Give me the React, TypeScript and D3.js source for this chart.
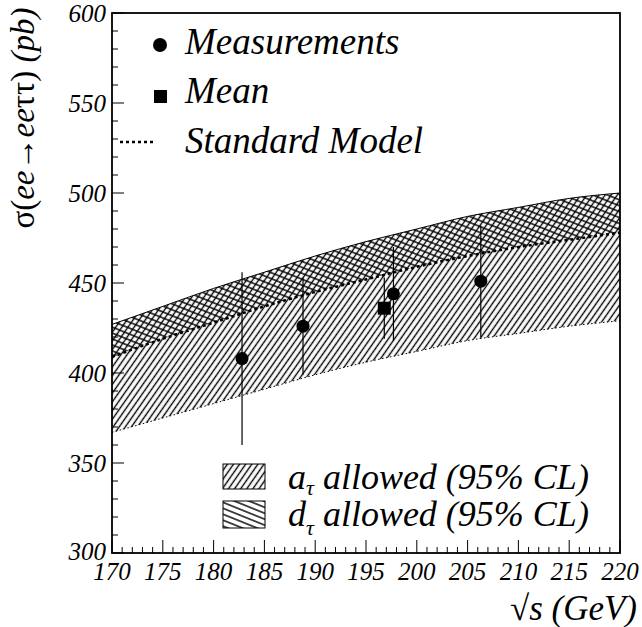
import * as d3 from "d3";

// sqrt(s) grid for the bands (GeV)
const ENERGY = [170, 175, 180, 185, 190, 195, 200, 205, 210, 215, 220];
// Standard Model prediction (pb)
const SM_XSEC = [409, 419, 428, 437, 445, 452, 459, 465, 470, 474, 478];
// upper edge of both allowed regions (pb)
const BAND_HIGH = [427, 437, 447, 456, 465, 473, 480, 487, 492, 497, 500];
// lower edge of the a_tau allowed region (pb)
const BAND_LOW = [367, 375, 383, 391, 399, 406, 412, 418, 422, 426, 429];

// measurements
const MEAS_E = [182.8, 188.8, 197.7, 206.3];
const MEAS_XSEC = [408, 426, 444, 451];
const MEAS_ERR = [48, 27, 26, 31];

// mean
const MEAN_E = [196.8];
const MEAN_XSEC = [436];
const MEAN_ERR = [17];

const X_TICKS = [170, 175, 180, 185, 190, 195, 200, 205, 210, 215, 220];
const Y_TICKS = [300, 350, 400, 450, 500, 550, 600];

const W = 642;
const H = 627;
const FONT =
  "'Liberation Serif', 'Times New Roman', Times, 'Nimbus Roman', 'Noto Serif', 'DejaVu Serif', FreeSerif, serif";

export default function App() {
  const x = d3.scaleLinear().domain([170, 220]).range([112, 620]);
  const y = d3.scaleLinear().domain([300, 600]).range([553, 13]);

  const pts = ENERGY.map((e, i) => ({ e, sm: SM_XSEC[i], hi: BAND_HIGH[i], lo: BAND_LOW[i] }));
  type P = (typeof pts)[number];

  const areaA = d3
    .area<P>()
    .x((d) => x(d.e))
    .y0((d) => y(d.lo))
    .y1((d) => y(d.hi))
    .curve(d3.curveMonotoneX);
  const areaD = d3
    .area<P>()
    .x((d) => x(d.e))
    .y0((d) => y(d.sm))
    .y1((d) => y(d.hi))
    .curve(d3.curveMonotoneX);
  const lineOf = (f: (d: P) => number) =>
    d3
      .line<P>()
      .x((d) => x(d.e))
      .y((d) => y(f(d)))
      .curve(d3.curveMonotoneX)(pts) ?? "";

  const xMinor = d3.range(170, 221, 1);
  const yMinor = d3.range(300, 601, 10);

  return (
    <div style={{ fontFamily: FONT }}>
      <style>{`body{margin:0} svg text{font-family:${FONT}}`}</style>
      <svg width={W} height={H} style={{ display: "block", background: "#fff" }}>
        <defs>
          <pattern id="hatchA" width="5" height="5" patternUnits="userSpaceOnUse" patternTransform="rotate(35)">
            <line x1="2.5" y1="0" x2="2.5" y2="5" stroke="#000" strokeWidth="1.4" />
          </pattern>
          <pattern id="hatchD" width="5" height="5.5" patternUnits="userSpaceOnUse" patternTransform="rotate(22)">
            <line x1="0" y1="2.75" x2="5" y2="2.75" stroke="#000" strokeWidth="1.4" />
          </pattern>
        </defs>

        {/* bands */}
        <path d={areaA(pts) ?? ""} fill="url(#hatchA)" />
        <path d={areaD(pts) ?? ""} fill="url(#hatchD)" />
        <path d={lineOf((d) => d.hi)} fill="none" stroke="#000" strokeWidth={1} />
        <path d={lineOf((d) => d.lo)} fill="none" stroke="#000" strokeWidth={1} strokeDasharray="1.5,2.5" />
        <path d={lineOf((d) => d.sm)} fill="none" stroke="#000" strokeWidth={2.6} strokeDasharray="3,3" />

        {/* measurements */}
        {MEAS_E.map((e, i) => (
          <g key={`m${i}`}>
            <line
              x1={x(e)}
              x2={x(e)}
              y1={y(MEAS_XSEC[i] - MEAS_ERR[i])}
              y2={y(MEAS_XSEC[i] + MEAS_ERR[i])}
              stroke="#000"
              strokeWidth={1.2}
            />
            <circle cx={x(e)} cy={y(MEAS_XSEC[i])} r={6.5} fill="#000" />
          </g>
        ))}
        {MEAN_E.map((e, i) => (
          <g key={`mean${i}`}>
            <line
              x1={x(e)}
              x2={x(e)}
              y1={y(MEAN_XSEC[i] - MEAN_ERR[i])}
              y2={y(MEAN_XSEC[i] + MEAN_ERR[i])}
              stroke="#000"
              strokeWidth={1.2}
            />
            <rect x={x(e) - 6.5} y={y(MEAN_XSEC[i]) - 6.5} width={13} height={13} fill="#000" />
          </g>
        ))}

        {/* frame */}
        <rect x={112} y={13} width={508} height={540} fill="none" stroke="#000" strokeWidth={1.8} />

        {/* ticks */}
        {xMinor.map((v) => (
          <line key={`xt${v}`} x1={x(v)} x2={x(v)} y1={553} y2={553 - (v % 5 === 0 ? 13 : 6)} stroke="#000" strokeWidth={1} />
        ))}
        {yMinor.map((v) => (
          <line key={`yt${v}`} x1={112} x2={112 + (v % 50 === 0 ? 12 : 6)} y1={y(v)} y2={y(v)} stroke="#000" strokeWidth={1} />
        ))}
        {X_TICKS.map((v) => (
          <text key={`xl${v}`} x={x(v)} y={580} textAnchor="middle" fontSize={25} fontStyle="italic">
            {v}
          </text>
        ))}
        {Y_TICKS.map((v) => (
          <text key={`yl${v}`} x={106} y={y(v) - (v === 300 ? 2 : 0)} dy="0.35em" textAnchor="end" fontSize={25} fontStyle="italic">
            {v}
          </text>
        ))}

        {/* axis titles */}
        <text x={637} y={620} textAnchor="end" fontSize={35} fontStyle="italic">
          <tspan fontStyle="normal">√</tspan>s (GeV)
        </text>
        <text transform="translate(34,118) rotate(-90)" textAnchor="middle" fontSize={33}>
          σ(<tspan fontStyle="italic">ee</tspan>→<tspan fontStyle="italic">ee</tspan>ττ) <tspan fontStyle="italic">(pb)</tspan>
        </text>

        {/* legend top-left */}
        <circle cx={160} cy={45} r={7} fill="#000" />
        <text x={185} y={54} fontSize={37} fontStyle="italic">Measurements</text>
        <rect x={154} y={90} width={13} height={13} fill="#000" />
        <text x={185} y={103} fontSize={37} fontStyle="italic">Mean</text>
        <line x1={120} x2={153} y1={142} y2={142} stroke="#000" strokeWidth={2.6} strokeDasharray="3,3" />
        <text x={185} y={153} fontSize={37} fontStyle="italic">Standard Model</text>

        {/* legend bottom-right */}
        <rect x={223} y={464} width={42} height={25} fill="url(#hatchA)" stroke="#000" strokeWidth={1} />
        <text x={288} y={489} fontSize={36} fontStyle="italic">
          a<tspan fontSize={22} dy={6}>τ</tspan>
          <tspan dy={-6}> allowed (95% CL)</tspan>
        </text>
        <rect x={223} y={501} width={42} height={27} fill="url(#hatchD)" stroke="#000" strokeWidth={1} />
        <text x={288} y={526} fontSize={36} fontStyle="italic">
          d<tspan fontSize={22} dy={9}>τ</tspan>
          <tspan dy={-9}> allowed (95% CL)</tspan>
        </text>
      </svg>
    </div>
  );
}
